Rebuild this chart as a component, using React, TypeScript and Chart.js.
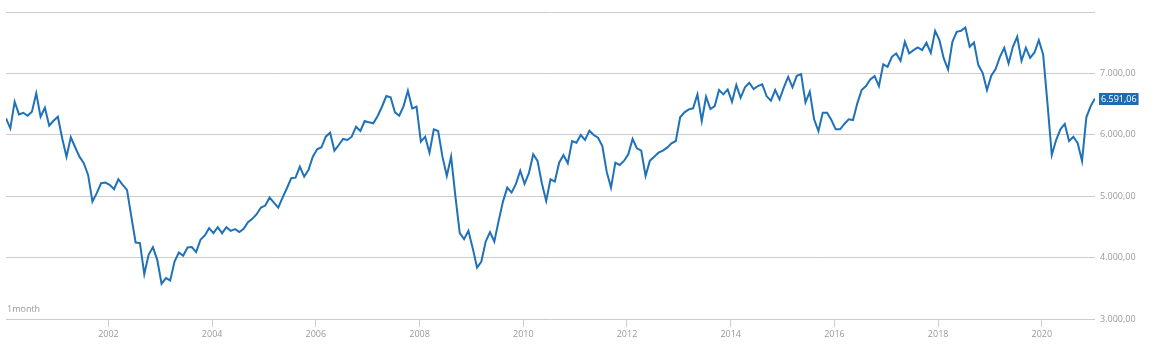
import React, { useEffect, useRef } from 'react';
import { Chart, registerables } from 'chart.js';

Chart.register(...registerables);

const startYear = 2000;
// monthly closes, Jan 2000 .. Jan 2021
const closes = [
  6268, 6106, 6538, 6333, 6359, 6311, 6376, 6675, 6294, 6441, 6148, 6229,
  6294, 5943, 5644, 5959, 5797, 5644, 5537, 5346, 4912, 5049, 5211, 5221,
  5184, 5114, 5276, 5184, 5102, 4668, 4246, 4236, 3732, 4046, 4171, 3964,
  3574, 3667, 3628, 3937, 4083, 4029, 4164, 4171, 4089, 4289, 4360, 4480,
  4398, 4496, 4398, 4496, 4436, 4463, 4415, 4468, 4577, 4631, 4707, 4815,
  4847, 4977, 4896, 4815, 4977, 5130, 5293, 5302, 5481, 5319, 5428, 5644,
  5764, 5797, 5969, 6034, 5742, 5834, 5932, 5915, 5969, 6132, 6062, 6224,
  6203, 6187, 6306, 6457, 6631, 6610, 6366, 6311, 6468, 6717, 6431, 6457,
  5888, 5969, 5709, 6089, 6062, 5644, 5330, 5644, 4993, 4398, 4301, 4436,
  4154, 3839, 3937, 4262, 4415, 4262, 4598, 4912, 5140, 5059, 5200, 5416,
  5200, 5374, 5683, 5574, 5211, 4923, 5276, 5238, 5546, 5671, 5537, 5899,
  5872, 5997, 5915, 6067, 5997, 5953, 5818, 5400, 5140, 5546, 5509, 5574,
  5683, 5932, 5780, 5742, 5330, 5579, 5644, 5709, 5742, 5790, 5862, 5899,
  6285, 6366, 6415, 6431, 6659, 6224, 6620, 6420, 6468, 6729, 6659, 6740,
  6538, 6810, 6603, 6773, 6847, 6745, 6794, 6821, 6631, 6555, 6729, 6577,
  6773, 6945, 6773, 6961, 6989, 6528, 6701, 6252, 6062, 6359, 6359, 6241,
  6089, 6089, 6176, 6252, 6241, 6512, 6729, 6794, 6902, 6956, 6794, 7147,
  7108, 7270, 7325, 7205, 7514, 7325, 7379, 7423, 7379, 7498, 7335, 7693,
  7541, 7244, 7065, 7514, 7677, 7693, 7748, 7433, 7504, 7135, 7010, 6729,
  6961, 7070, 7270, 7416, 7163, 7433, 7596, 7205, 7416, 7254, 7341, 7541,
  7309, 6512, 5671, 5915, 6089, 6176, 5899, 5969, 5862, 5574, 6285, 6468,
  6591.06,
];
const lastValue = 6591.06;
const yTicks = [3000, 4000, 5000, 6000, 7000, 8000];
const yLabelHidden = [8000];
const xTickYears = [2002, 2004, 2006, 2008, 2010, 2012, 2014, 2016, 2018, 2020];
const periodLabel = '1month';

const LINE = '#1f71b8';
const GRID = '#cccccc';
const TEXT = '#9a9a9a';
const FONT = 'Open Sans';

function fmt(v: number): string {
  const [i, d] = v.toFixed(2).split('.');
  return i.replace(/\B(?=(\d{3})+(?!\d))/g, '.') + ',' + d;
}

const monthOffset = 0.3;
const toX = (i: number) => startYear + (i + monthOffset) / 12;

const overlay = {
  id: 'overlay',
  afterDraw(chart: any) {
    const { ctx, chartArea, scales } = chart;
    ctx.save();
    ctx.font = `9px "${FONT}"`;
    ctx.fillStyle = TEXT;
    ctx.textAlign = 'left';
    ctx.textBaseline = 'middle';
    ctx.fillText(periodLabel, chartArea.left + 1, chartArea.bottom - 10);

    const y = scales.y.getPixelForValue(lastValue);
    const text = fmt(lastValue);
    const w = ctx.measureText(text).width + 4;
    const x0 = chartArea.right + 4;
    ctx.fillStyle = '#1d6cb3';
    ctx.fillRect(x0, Math.round(y) - 6, w, 12);
    ctx.fillStyle = '#ffffff';
    ctx.fillText(text, x0 + 2, Math.round(y));
    ctx.restore();
  },
};

export default function App() {
  const ref = useRef<HTMLCanvasElement>(null);
  useEffect(() => {
    document.body.style.margin = '0';
    const chart = new Chart(ref.current!, {
      type: 'line',
      data: {
        datasets: [
          {
            data: closes.map((v, i) => ({ x: toX(i), y: v })),
            borderColor: LINE,
            borderWidth: 2,
            pointRadius: 0,
            tension: 0,
            fill: false,
          },
        ],
      },
      options: {
        animation: false,
        responsive: false,
        maintainAspectRatio: false,
        layout: { padding: { left: 6, top: 12, right: 0, bottom: 0 } },
        plugins: { legend: { display: false }, tooltip: { enabled: false } },
        scales: {
          x: {
            type: 'linear',
            min: toX(0),
            max: toX(closes.length - 1),
            afterBuildTicks: (s: any) => {
              s.ticks = xTickYears.map((v) => ({ value: v }));
            },
            afterFit: (s: any) => {
              s.height = 32;
              s.paddingLeft = 0;
              s.paddingRight = 0;
            },
            grid: { drawOnChartArea: false, drawTicks: true, tickLength: 8, color: GRID },
            border: { display: false },
            ticks: {
              callback: (v: any) => String(v),
              color: TEXT,
              font: { family: FONT, size: 9 },
              padding: 2,
              maxRotation: 0,
              autoSkip: false,
            },
          },
          y: {
            position: 'right',
            min: 3000,
            max: 8000,
            afterBuildTicks: (s: any) => {
              s.ticks = yTicks.map((v) => ({ value: v }));
            },
            afterFit: (s: any) => {
              s.width = 63;
              s.paddingTop = 0;
              s.paddingBottom = 0;
            },
            grid: { color: GRID, drawTicks: false },
            border: { display: false },
            ticks: {
              callback: (v: any) => (yLabelHidden.includes(v) ? '' : fmt(v)),
              color: TEXT,
              font: { family: FONT, size: 9 },
              padding: 5,
            },
          },
        },
      },
      plugins: [overlay],
    });
    return () => chart.destroy();
  }, []);
  return (
    <div style={{ width: 1158, height: 351 }}>
      <canvas ref={ref} width={1158} height={351} style={{ display: 'block' }} />
    </div>
  );
}
